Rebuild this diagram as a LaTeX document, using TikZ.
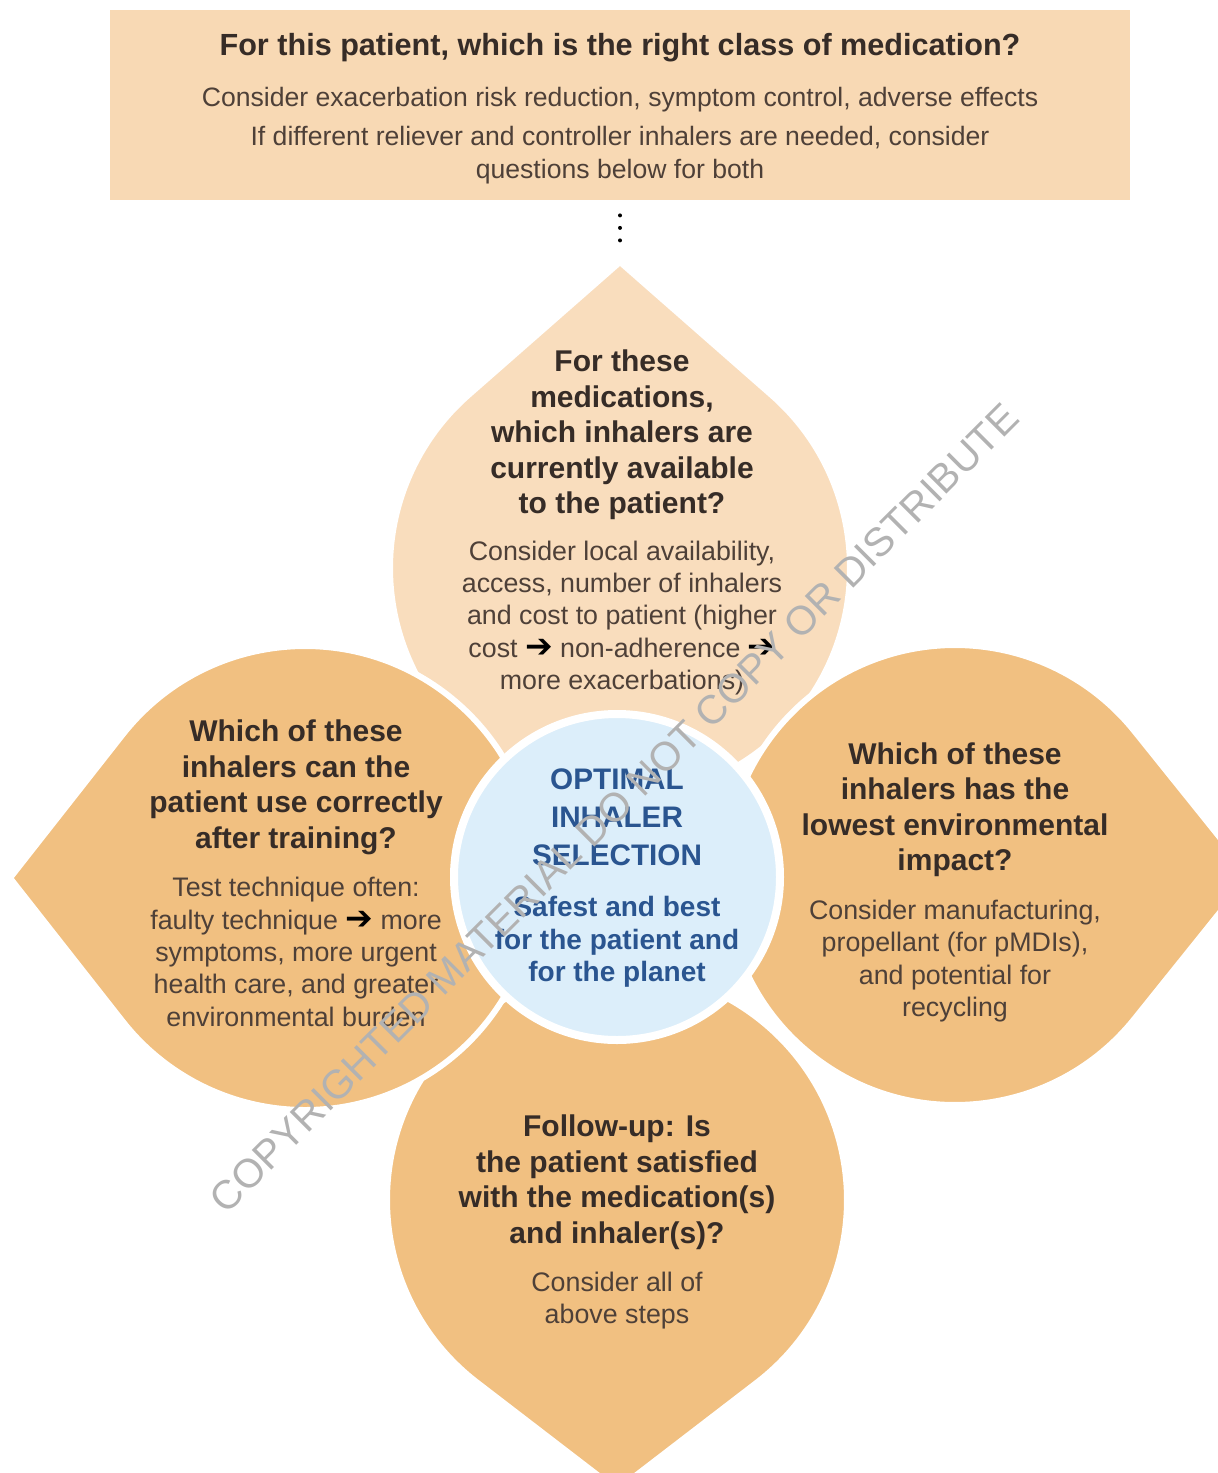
\documentclass[tikz,border=0pt]{standalone}
\usepackage{fontspec}
\setmainfont{Liberation Sans}
\newfontfamily\arrowfont{DejaVu Sans}
\definecolor{boxfill}{HTML}{F8D9B4}
\definecolor{topfill}{HTML}{F9DDBD}
\definecolor{petalfill}{HTML}{F1C081}
\definecolor{hubfill}{HTML}{DCEEFA}
\definecolor{headcol}{HTML}{362C27}
\definecolor{bodycol}{HTML}{4E4038}
\definecolor{hubcol}{HTML}{2A5590}
\newcommand{\ra}{{\arrowfont\fontsize{16.5}{16}\selectfont\color{black}\char"2794}}
% petal: style, centre x, centre y, direction of tip, tip distance, radius
\newcommand{\petal}[6][petal]{%
  \pgfmathsetmacro\tipang{acos(#6/#5)}%
  \draw[#1,shift={(#2,#3)}] (#4:#5) -- (#4+\tipang:#6)
    arc[start angle=#4+\tipang, end angle=#4-\tipang+360, radius=#6] -- cycle;}

\begin{document}
\begin{tikzpicture}[x=0.5pt,y=-0.5pt,
  petal/.style={fill=petalfill,draw=white,line width=3pt,line join=round},
  head/.style={align=center,inner sep=0pt,text=headcol,
    font=\fontsize{15}{17.75}\selectfont\bfseries},
  body/.style={align=center,inner sep=0pt,text=bodycol,
    font=\fontsize{13.4}{16.15}\selectfont},
  hubtext/.style={align=center,inner sep=0pt,text=hubcol,
    font=\fontsize{14.85}{19}\selectfont\bfseries}]

\useasboundingbox (0,0) rectangle (1218,1473);

\node[fill=boxfill,minimum width=510pt,minimum height=95pt,inner sep=0pt] (medbox) at (620,105) {};
\node[inner sep=0pt,text=headcol,font=\fontsize{15.3}{18}\selectfont\bfseries] (title) at (620,48)
  {For this patient, which is the right class of medication?};
\node[body,font=\fontsize{13.3}{16.5}\selectfont] (sub1) at (620,100)
  {Consider exacerbation risk reduction, symptom control, adverse effects};
\node[body,font=\fontsize{13.3}{16.5}\selectfont] (sub2) at (620,155)
  {If different reliever and controller inhalers are needed, consider\\questions below for both};

\coordinate (tip) at (620,262);
\draw[line width=2pt,line cap=round,dash pattern=on 0pt off 6.25pt,
  shorten <=7.5pt,shorten >=10.5pt] (medbox.south) -- (tip);

\petal[petal,fill=topfill]{620}{568}{270}{306}{230}
\petal{617}{1200}{90}{290}{230}
\petal{305}{878}{180}{295}{232}
\petal{955}{875}{0}{295}{230}

\node[circle,minimum size=163pt,fill=hubfill,draw=white,line width=4pt] (hub) at (617,877) {};

\node[head] (tophead) at (622,435)
  {For these\\medications,\\which inhalers are\\currently available\\to the patient?};
\node[body] (topbody) at (622,618)
  {Consider local availability,\\access, number of inhalers\\and cost to patient (higher\\cost \ra{} non-adherence \ra\\more exacerbations)};

\node[head] (lefthead) at (296,787.5)
  {Which of these\\inhalers can the\\patient use correctly\\after training?};
\node[body] (leftbody) at (296,952)
  {Test technique often:\\faulty technique \ra{} more\\symptoms, more urgent\\health care, and greater\\environmental burden};

\node[head] (righthead) at (955,809.5)
  {Which of these\\inhalers has the\\lowest environmental\\impact?};
\node[body] (rightbody) at (955,961)
  {Consider manufacturing,\\propellant (for pMDIs),\\and potential for\\recycling};

\node[head] (bothead) at (617,1182)
  {Follow-up: Is\\the patient satisfied\\with the medication(s)\\and inhaler(s)?};
\node[body] (botbody) at (617,1300.5)
  {Consider all of\\above steps};

\node[hubtext] (hubhead) at (617,817) {OPTIMAL\\INHALER\\SELECTION};
\node[hubtext,font=\fontsize{14}{16.25}\selectfont\bfseries] (hubbody) at (617,942)
  {Safest and best\\for the patient and\\for the planet};

\node[rotate=45,text=black!30,inner sep=0pt,font=\fontsize{20.2}{24}\selectfont] (mark) at (614,808)
  {COPYRIGHTED MATERIAL DO NOT COPY OR DISTRIBUTE};
\end{tikzpicture}
\end{document}
